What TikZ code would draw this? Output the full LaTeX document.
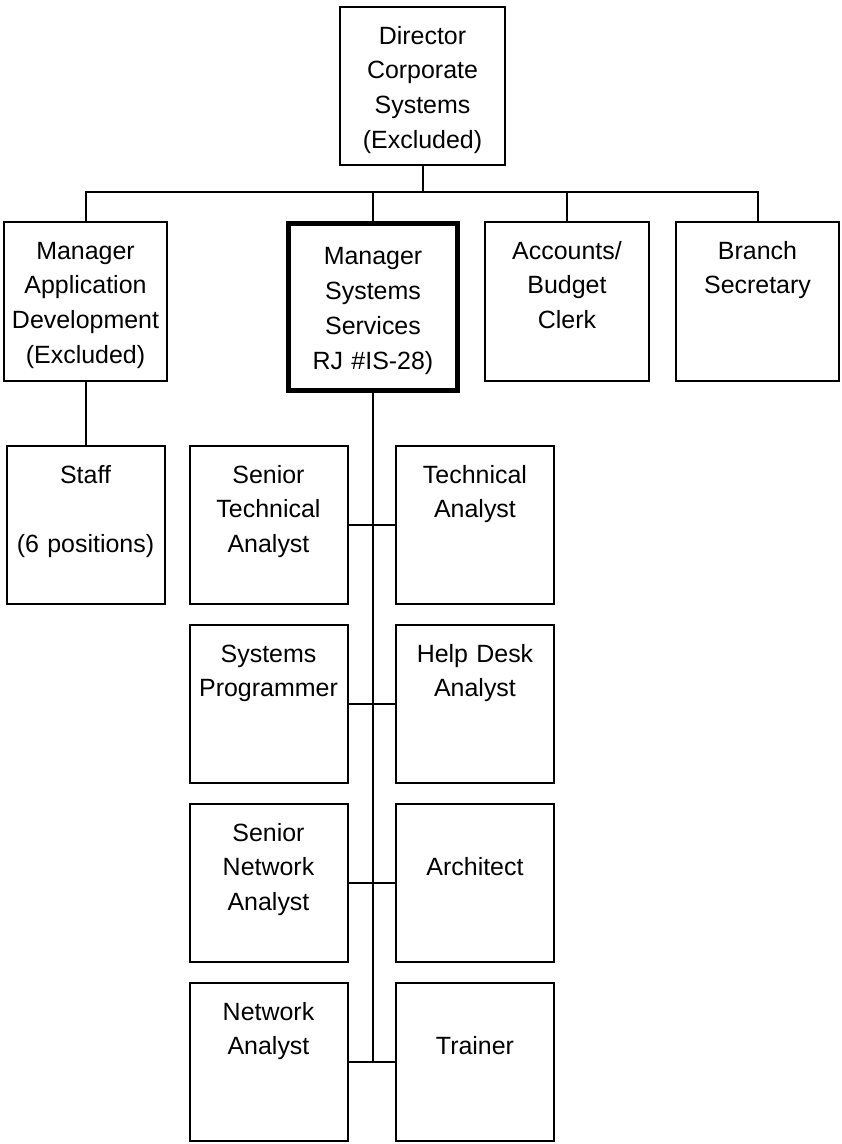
\documentclass[tikz,border=0pt]{standalone}
\usepackage{fontspec}
\setmainfont{Liberation Sans}

\tikzset{
    box/.style={draw, line width=0.04cm, inner sep=0pt, anchor=north, align=center,
        font={\fontsize{14.2pt}{19.9pt}\selectfont}, text height=0.74cm},
    topbox/.style={box, text width=3.28cm, text depth=2.44cm},
    subbox/.style={box, text width=3.16cm, text depth=2.42cm},
    mainbox/.style={box, line width=0.1cm, text width=3.38cm, text height=0.83cm, text depth=2.51cm},
    link/.style={line width=0.04cm}
}

\begin{document}
\begin{tikzpicture}

        \useasboundingbox (0, 0) rectangle (16.84, -22.88);

        \node (dir) at (8.45, -0.12) [topbox, text width=3.3cm, text depth=2.42cm] {Director\\Corporate\\Systems\\(Excluded)};

        \node (app) at (1.71, -4.42) [topbox, text width=3.26cm] {Manager\\Application\\Development\\(Excluded)};
        \node (sys) at (7.46, -4.41) [mainbox] {Manager\\Systems\\Services\\RJ \#IS-28)};
        \node (acct) at (11.34, -4.42) [topbox] {Accounts/\\Budget\\Clerk};
        \node (sec) at (15.15, -4.42) [topbox, text width=3.26cm] {Branch\\Secretary};

        \node (staff) at (1.71, -8.9) [subbox] {Staff\\[0.7cm](6 positions)};

        \node (sta) at (5.37, -8.9) [subbox] {Senior\\Technical\\Analyst};
        \node (ta) at (9.50, -8.9) [subbox] {Technical\\Analyst};
        \node (sp) at (5.37, -12.48) [subbox] {Systems\\Programmer};
        \node (hda) at (9.50, -12.48) [subbox] {Help Desk\\Analyst};
        \node (sna) at (5.37, -16.06) [subbox] {Senior\\Network\\Analyst};
        \node (arch) at (9.50, -16.06) [subbox] {\mbox{}\\Architect};
        \node (na) at (5.37, -19.64) [subbox] {Network\\Analyst};
        \node (train) at (9.50, -19.64) [subbox] {\mbox{}\\Trainer};

        \coordinate (bus) at (8.45, -3.84);

        \draw[link] (dir.south) -- (bus);
        \draw[link] (app.north) |- (bus) -| (sec.north);
        \draw[link] (sys.north) -- (sys.north |- bus);
        \draw[link] (acct.north) -- (acct.north |- bus);

        \draw[link] (app.south) -- (staff.north);

        \draw[link] (sys.south) -- (sys.south |- na.east);
        \draw[link] (sta.east) -- (ta.west);
        \draw[link] (sp.east) -- (hda.west);
        \draw[link] (sna.east) -- (arch.west);
        \draw[link] (na.east) -- (train.west);

    \end{tikzpicture}
\end{document}
